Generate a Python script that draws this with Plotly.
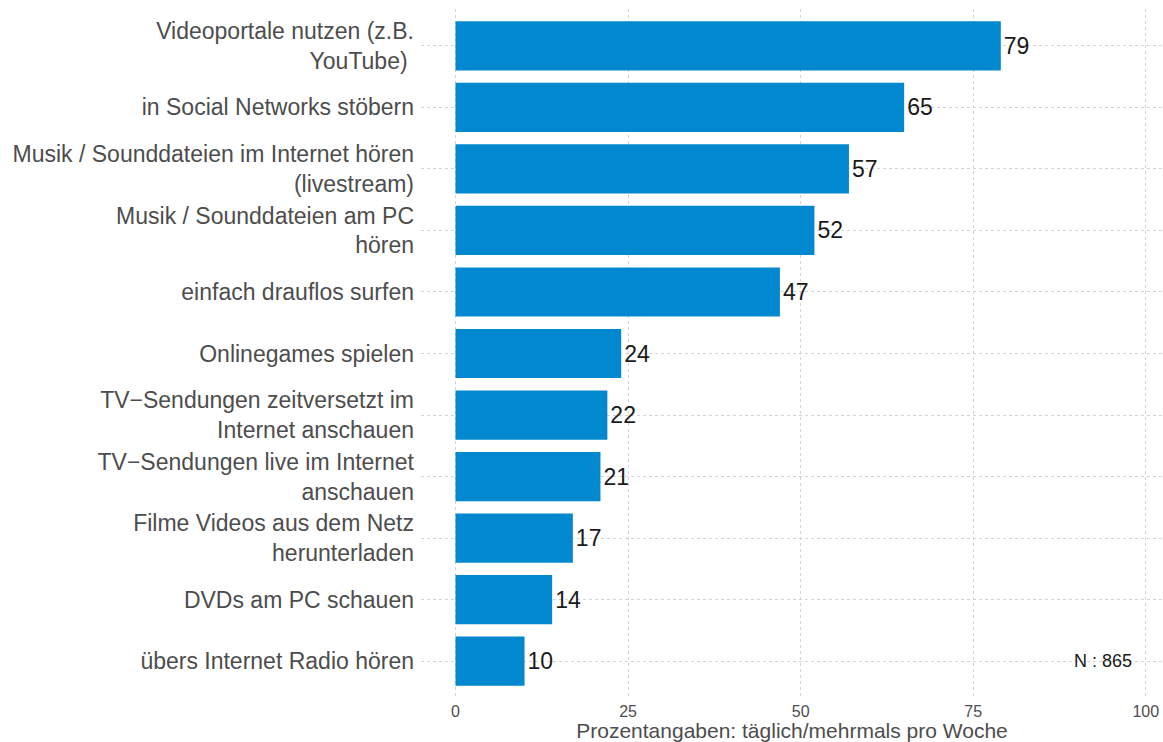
import plotly.graph_objects as go

# categories (top to bottom) and percentages
categories = [
    "Videoportale nutzen (z.B.<br>YouTube) ",
    "in Social Networks stöbern",
    "Musik / Sounddateien im Internet hören<br>(livestream)",
    "Musik / Sounddateien am PC<br>hören",
    "einfach drauflos surfen",
    "Onlinegames spielen",
    "TV−Sendungen zeitversetzt im<br>Internet anschauen",
    "TV−Sendungen live im Internet<br>anschauen",
    "Filme Videos aus dem Netz<br>herunterladen",
    "DVDs am PC schauen",
    "übers Internet Radio hören",
]
values = [79, 65, 57, 52, 47, 24, 22, 21, 17, 14, 10]
x_ticks = [0, 25, 50, 75, 100]
sample_note = "N : 865"

BAR_COLOR = "#0288ce"
FONT = "Liberation Sans, Arial, Helvetica, sans-serif"

fig = go.Figure(go.Bar(
    x=values,
    y=categories,
    orientation="h",
    marker=dict(color=BAR_COLOR, line=dict(width=0)),
    width=0.8,
    text=[str(v) for v in values],
    textposition="outside",
    textfont=dict(size=23, color="#1a1a1a", family=FONT),
    cliponaxis=False,
    hoverinfo="x+y",
))

fig.add_annotation(
    x=93.8, y=categories[-1], text=sample_note, showarrow=False,
    xanchor="center", yanchor="middle",
    font=dict(size=18, color="#1a1a1a", family=FONT),
)

fig.update_layout(
    width=1163, height=742,
    margin=dict(l=421, r=0, t=9, b=44),
    plot_bgcolor="white", paper_bgcolor="white",
    font=dict(family=FONT),
    showlegend=False,
    xaxis=dict(
        range=[-5, 102.5],
        automargin=False,
        tickvals=x_ticks,
        ticktext=[str(t) for t in x_ticks],
        tickfont=dict(size=16, color="#4d4d4d"),
        showgrid=True, gridcolor="#d4d4d4", griddash="dot", gridwidth=1,
        zeroline=False, showline=False, ticks="", ticklabelstandoff=2,
        title=dict(text="Prozentangaben: täglich/mehrmals pro Woche",
                   font=dict(size=21, color="#4d4d4d"), standoff=3),
    ),
    yaxis=dict(
        range=[10.6, -0.6],
        automargin=False,
        tickfont=dict(size=23, color="#4d4d4d"),
        showgrid=True, gridcolor="#d4d4d4", griddash="dot", gridwidth=1,
        zeroline=False, showline=False, ticks="", ticklabelstandoff=6,
    ),
)

# drop the default 8px page margin so the figure fills the window
fig.write_html(
    "out.html",
    config={"displayModeBar": False},
    post_script="document.body.style.margin='0';document.body.style.overflow='hidden';",
)
